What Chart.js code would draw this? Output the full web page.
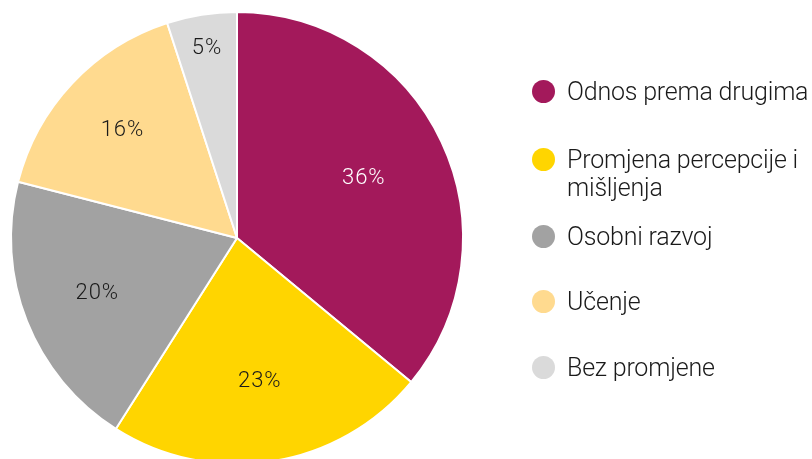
<!DOCTYPE html>
<html>
<head>
<meta charset="utf-8">
<script src="https://cdn.jsdelivr.net/npm/chart.js@4.4.1/dist/chart.umd.min.js"></script>
<style>
    html, body { margin: 0; padding: 0; background: #fff; }
    #wrap { position: relative; width: 812px; height: 459px; overflow: hidden; }
    #chart-box { position: absolute; left: 0; top: 0; width: 812px; height: 470px; }
    #legend { position: absolute; left: 0; top: 0; }
    .item { position: absolute; left: 567px; font-family: Roboto, sans-serif; font-weight: 300;
            font-size: 25px; line-height: 28px; letter-spacing: -0.2px; color: #1a1a1a; white-space: nowrap; }
    .dot { position: absolute; left: -35px; top: 2px; width: 23px; height: 23px; border-radius: 50%; }
</style>
</head>
<body>
<div id="wrap">
    <div id="chart-box"><canvas id="chart" width="812" height="470"></canvas></div>
    <div id="legend"></div>
</div>
<script>
const categories = ["Odnos prema drugima", "Promjena percepcije i mišljenja", "Osobni razvoj", "Učenje", "Bez promjene"];
const legendLines = [["Odnos prema drugima"], ["Promjena percepcije i", "mišljenja"], ["Osobni razvoj"], ["Učenje"], ["Bez promjene"]];
const shares = [36, 23, 20, 16, 5];
const colors = ["#a3195b", "#ffd500", "#a2a2a2", "#ffda8f", "#dadada"];
const labelColors = ["#ffffff", "#1a1a1a", "#1a1a1a", "#1a1a1a", "#1a1a1a"];

// how far out each percent label sits (fraction of radius)
const labelRadius = [0.62, 0.645, 0.665, 0.695, 0.85];
const legendTops = [78, 146, 223, 288, 354];

const pctLabels = {
    id: 'pctLabels',
    afterDatasetsDraw(chart) {
        const ctx = chart.ctx;
        const meta = chart.getDatasetMeta(0);
        ctx.save();
        ctx.font = '300 22px Roboto, sans-serif';
        ctx.letterSpacing = '1px';
        ctx.textAlign = 'center';
        ctx.textBaseline = 'middle';
        meta.data.forEach((arc, i) => {
            const mid = (arc.startAngle + arc.endAngle) / 2;
            const r = arc.outerRadius * labelRadius[i];
            ctx.fillStyle = labelColors[i];
            ctx.fillText(shares[i] + '%', arc.x + Math.cos(mid) * r, arc.y + Math.sin(mid) * r);
        });
        ctx.restore();
    }
};

new Chart(document.getElementById("chart"), {
    type: 'pie',
    data: {
        labels: categories,
        datasets: [{
            data: shares,
            backgroundColor: colors,
            borderColor: '#ffffff',
            borderWidth: 2
        }]
    },
    options: {
        responsive: false,
        animation: false,
        layout: { padding: { left: 10, top: 11, right: 348, bottom: 5 } },
        plugins: {
            legend: { display: false },
            tooltip: { enabled: false }
        }
    },
    plugins: [pctLabels]
});

const legend = document.getElementById("legend");
legendLines.forEach((lines, i) => {
    const el = document.createElement("div");
    el.className = "item";
    el.style.top = legendTops[i] + "px";
    el.innerHTML = '<span class="dot" style="background:' + colors[i] + '"></span>' + lines.join("<br>");
    legend.appendChild(el);
});
</script>
</body>
</html>
